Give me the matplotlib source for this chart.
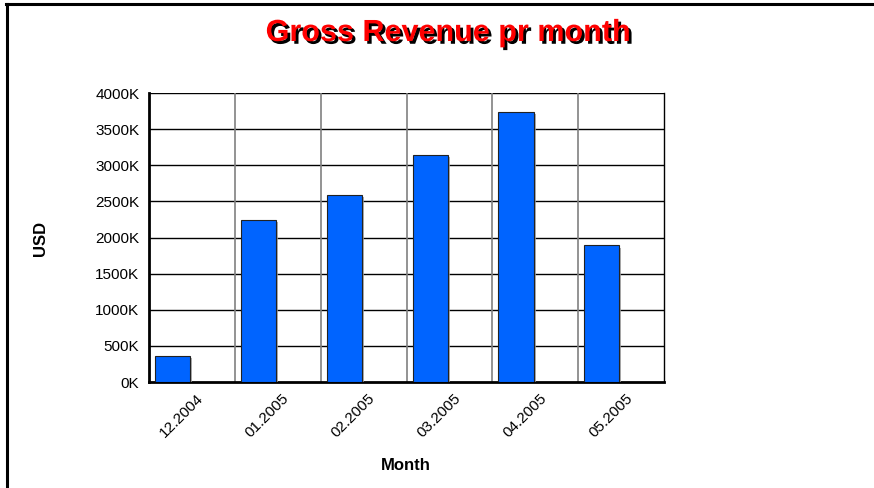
import matplotlib
matplotlib.use("Agg")
import matplotlib.pyplot as plt
import numpy as np
from matplotlib.lines import Line2D
import matplotlib.patheffects as pe

months = ["12.2004", "01.2005", "02.2005", "03.2005", "04.2005", "05.2005"]
revenue_k = [365, 2240, 2590, 3140, 3735, 1890]
yticks = [0, 500, 1000, 1500, 2000, 2500, 3000, 3500, 4000]
ytick_labels = [f"{v}K" for v in yticks]

plt.rcParams['font.family'] = ['Liberation Sans', 'DejaVu Sans']

fig = plt.figure(figsize=(8.74, 4.88), dpi=100)
fig.patch.set_facecolor("white")
ax = fig.add_axes([149/874, 1-382/488, 515/874, 289/488])

x = np.arange(len(months))
ax.bar(x + 0.07, revenue_k, width=0.41, align='edge', color="#0064FF",
       edgecolor="#222222", linewidth=0.8, zorder=3,
       path_effects=[pe.SimplePatchShadow(offset=(1.5, -1.5), shadow_rgbFace="#999999", alpha=0.8), pe.Normal()])

ax.set_xlim(0, len(months))
ax.set_ylim(0, 4000)
ax.set_yticks(yticks)
ax.set_yticklabels(ytick_labels, fontsize=11)
ax.set_xticks(x + 0.55)
ax.set_xticklabels(months, rotation=45, ha='right', rotation_mode='anchor', fontsize=11)
ax.tick_params(length=0, pad=7)

for v in yticks[1:]:
    ax.axhline(v, color="black", linewidth=1.0, zorder=1)
for i in range(1, len(months)):
    ax.axvline(i, color="#808080", linewidth=1.2, zorder=1)

ax.spines["top"].set_visible(False)
ax.spines["right"].set_linewidth(1.0)
ax.spines["left"].set_linewidth(2.0)
ax.spines["bottom"].set_linewidth(2.0)

fig.text(406/874, 1-465/488, "Month", ha="center", va="center", fontsize=12, fontweight="bold")
fig.text(40/874, 1-238/488, "USD", ha="center", va="center", fontsize=12, fontweight="bold", rotation=90)

fig.text(448/874, 1-33/488, "Gross Revenue pr month", ha="center", va="center",
         fontsize=22, fontweight="bold", color="#FF0000",
         path_effects=[pe.withSimplePatchShadow(offset=(2, -2), shadow_rgbFace="black", alpha=1.0)])

fig.add_artist(Line2D([7/874, 7/874], [0, 1-4/488], transform=fig.transFigure, color="black", linewidth=2.2))
fig.add_artist(Line2D([6/874, 1], [1-4/488, 1-4/488], transform=fig.transFigure, color="black", linewidth=2.2))

fig.savefig("out.png", dpi=100)
